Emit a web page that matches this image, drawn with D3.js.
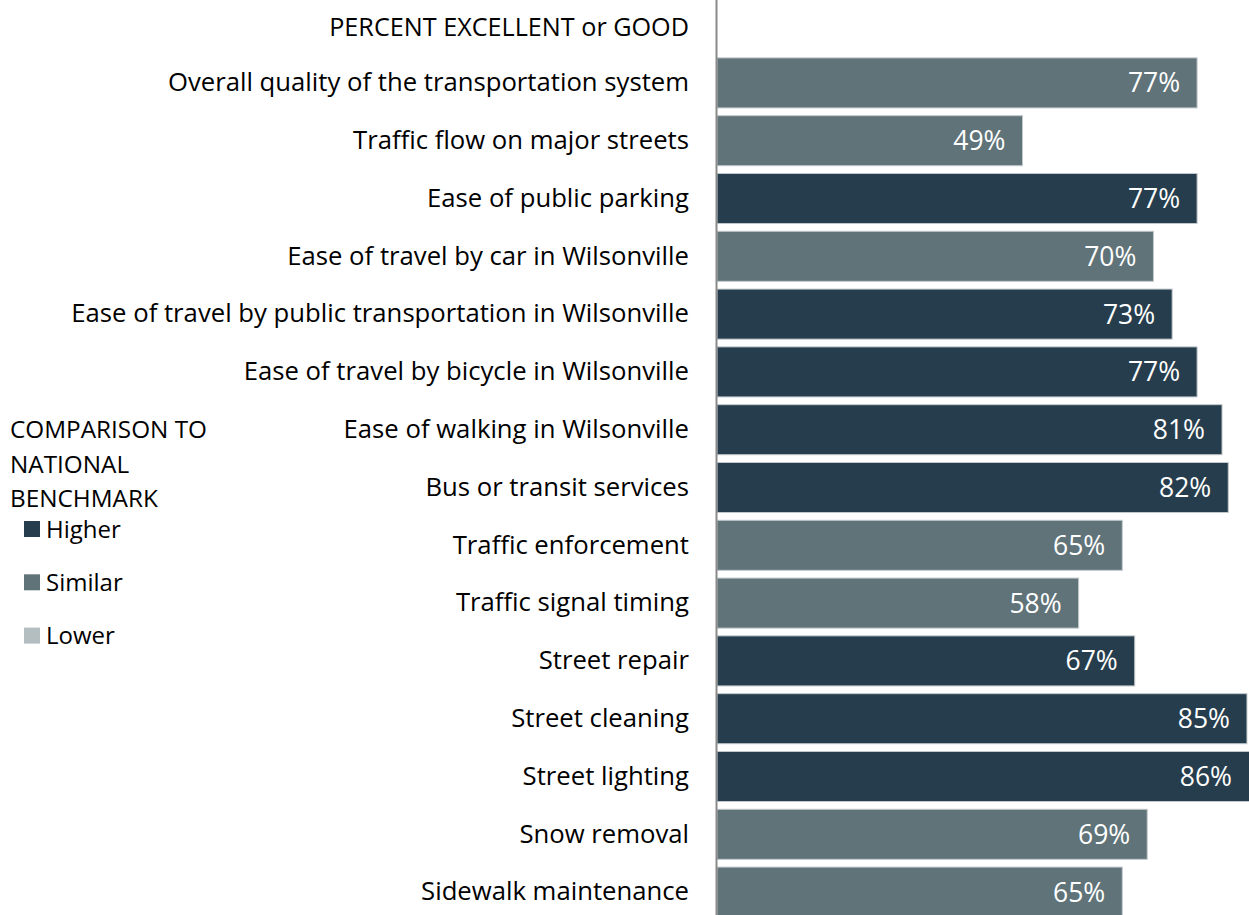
<!DOCTYPE html>
<meta charset="utf-8">
<style>
html, body { margin: 0; padding: 0; background: #fff; }
svg { display: block; }
text { font-family: "Open Sans", sans-serif; }
</style>
<body>
<script src="https://cdn.jsdelivr.net/npm/d3@7/dist/d3.min.js"></script>
<script>

var width = 1249,
    height = 915;

// data
var categories = [
  "Overall quality of the transportation system",
  "Traffic flow on major streets",
  "Ease of public parking",
  "Ease of travel by car in Wilsonville",
  "Ease of travel by public transportation in Wilsonville",
  "Ease of travel by bicycle in Wilsonville",
  "Ease of walking in Wilsonville",
  "Bus or transit services",
  "Traffic enforcement",
  "Traffic signal timing",
  "Street repair",
  "Street cleaning",
  "Street lighting",
  "Snow removal",
  "Sidewalk maintenance"
];
var values = [77, 49, 77, 70, 73, 77, 81, 82, 65, 58, 67, 85, 86, 69, 65];
var comparison = ["Similar", "Similar", "Higher", "Similar", "Higher", "Higher", "Higher", "Higher",
                  "Similar", "Similar", "Higher", "Higher", "Higher", "Similar", "Similar"];
var legendKeys = ["Higher", "Similar", "Lower"];
var legendTitle = ["COMPARISON TO", "NATIONAL", "BENCHMARK"];
var header = "PERCENT EXCELLENT or GOOD";

var rows = categories.map(function(c, i){
  return {name: c, value: values[i], comp: comparison[i]};
});

var color = d3.scaleOrdinal()
  .domain(legendKeys)
  .range(["#263d4d", "#607379", "#b4bdc0"]);

var x0 = 717;
var x = d3.scaleLinear().domain([0, 100]).range([x0, x0 + 623.5]);
var y = d3.scaleBand().domain(categories).range([54, 921])
  .paddingInner(0.134).paddingOuter(0.067);

var svg = d3.select("body").append("svg")
  .attr("width", width)
  .attr("height", height);

// bars
svg.append("g").attr("class", "bars")
  .selectAll("rect")
  .data(rows)
  .enter().append("rect")
  .attr("x", x(0))
  .attr("y", function(d){ return y(d.name); })
  .attr("width", function(d){ return x(d.value) - x(0); })
  .attr("height", y.bandwidth())
  .attr("fill", function(d){ return color(d.comp); })
  .attr("stroke", "#c3cacd")
  .attr("stroke-width", 1);

// value labels
svg.append("g").attr("class", "values")
  .selectAll("text")
  .data(rows)
  .enter().append("text")
  .attr("x", function(d){ return Math.min(x(d.value), width) - 17; })
  .attr("y", function(d){ return y(d.name) + y.bandwidth() / 2; })
  .attr("dy", "0.36em")
  .attr("text-anchor", "end")
  .style("font-size", "26.5px")
  .attr("fill", "#fff")
  .text(function(d){ return d.value + "%"; });

// category axis
var axis = d3.axisLeft(y).tickSize(0).tickPadding(28);
var gAxis = svg.append("g")
  .attr("transform", "translate(" + x0 + ",0)")
  .call(axis);
gAxis.select(".domain").remove();
gAxis.selectAll("text")
  .style("font-family", "'Open Sans', sans-serif")
  .style("font-size", "25.7px")
  .attr("fill", "#000");

svg.append("line")
  .attr("x1", x0 - 0.5).attr("x2", x0 - 0.5)
  .attr("y1", 0).attr("y2", height)
  .attr("stroke", "#8a8a8a")
  .attr("stroke-width", 2);

svg.append("text")
  .attr("x", x0 - 28)
  .attr("y", 27)
  .attr("dy", "0.36em")
  .attr("text-anchor", "end")
  .style("font-size", "25.2px")
  .attr("fill", "#000")
  .text(header);

// legend
var legend = svg.append("g").attr("class", "legend");
legend.selectAll("text.title")
  .data(legendTitle)
  .enter().append("text")
  .attr("class", "title")
  .attr("x", 10)
  .attr("y", function(d, i){ return 438 + i * 34.5; })
  .style("font-size", "24.3px")
  .attr("fill", "#000")
  .text(function(d){ return d; });

var item = legend.selectAll("g.item")
  .data(legendKeys)
  .enter().append("g")
  .attr("class", "item")
  .attr("transform", function(d, i){ return "translate(24," + (521 + i * 53.3) + ")"; });
item.append("rect")
  .attr("width", 16).attr("height", 16)
  .attr("fill", function(d){ return color(d); });
item.append("text")
  .attr("x", 22)
  .attr("y", 16.5)
  .style("font-size", "24px")
  .attr("fill", "#000")
  .text(function(d){ return d; });

</script>
</body>
